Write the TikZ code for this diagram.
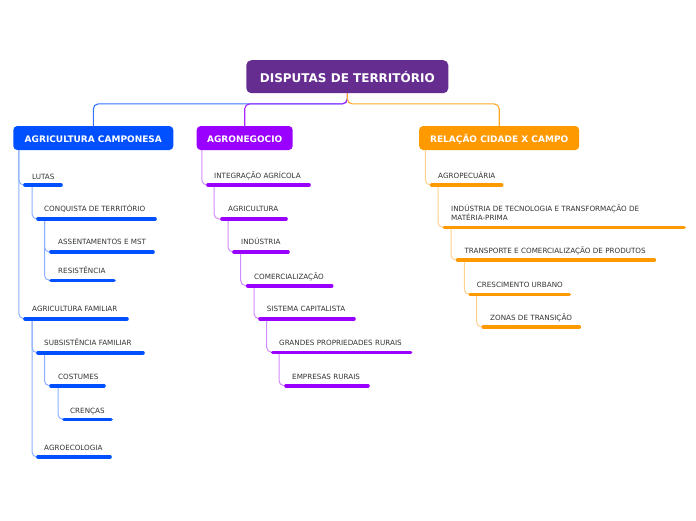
\documentclass[tikz,border=0pt]{standalone}
\usepackage{fontspec}
\setmainfont{DejaVu Sans}
\definecolor{titleC}{HTML}{662D91}
\definecolor{blueC}{HTML}{0050FF}
\definecolor{purpleC}{HTML}{9900FF}
\definecolor{orangeC}{HTML}{FF9900}
\definecolor{txtC}{HTML}{333333}
\tikzset{
  topbox/.style={rectangle, rounded corners=4pt, inner sep=0pt, text=white, font=\fontsize{9}{10}\selectfont\bfseries, minimum height=24pt, text height=8.6pt, text depth=0pt},
  titlebox/.style={rectangle, rounded corners=5pt, inner sep=0pt, fill=titleC, text=white, font=\fontsize{12}{14}\selectfont\bfseries, minimum width=202pt, minimum height=33pt},
  item/.style={inner sep=0pt, anchor=base west, text=txtC, font=\fontsize{7.2}{9.3}\selectfont},
  bar/.style={line width=3.6pt, line cap=round},
  conn/.style={line width=1pt, rounded corners=5pt},
  mainconn/.style={line width=1.1pt, rounded corners=5pt},
}
\begin{document}
\begin{tikzpicture}[x=1pt,y=-1pt]
\useasboundingbox (0,0) rectangle (696,520);

% title and top boxes
\node[titlebox] (title) at (347.3,76.7) {DISPUTAS DE TERRITÓRIO};
\node[topbox, fill=blueC, minimum width=160pt] (ac) at (93.3,138) {AGRICULTURA CAMPONESA};
\node[topbox, fill=purpleC, minimum width=96pt] (ag) at (244.7,138) {AGRONEGOCIO};
\node[topbox, fill=orangeC, minimum width=160pt] (rc) at (499.2,138) {RELAÇÃO CIDADE X CAMPO};

\draw[mainconn, blueC!80!white] (title.south) -- ++(0,10.5) -| (ac.north);
\draw[mainconn, purpleC!85!white] (title.south) -- ++(0,10.5) -| (ag.north);
\draw[mainconn, orangeC!85!white] (title.south) -- ++(0,10.5) -| (rc.north);

% ---------- AGRICULTURA CAMPONESA ----------
\node[item] (lutas) at (32,179.3) {LUTAS};
\coordinate (lutasL) at (25,185); \coordinate (lutasR) at (61,185);
\node[item] (conq) at (44,211.6) {CONQUISTA DE TERRITÓRIO};
\coordinate (conqL) at (38,219); \coordinate (conqR) at (155,219);
\node[item] (assent) at (58,244.6) {ASSENTAMENTOS E MST};
\coordinate (assentL) at (51,252); \coordinate (assentR) at (153,252);
\node[item] (resist) at (58,273.6) {RESISTÊNCIA};
\coordinate (resistL) at (51,280.3); \coordinate (resistR) at (114,280.3);
\node[item] (agfam) at (32,311.6) {AGRICULTURA FAMILIAR};
\coordinate (agfamL) at (25,318.7); \coordinate (agfamR) at (127,318.7);
\node[item] (subs) at (44,345.6) {SUBSISTÊNCIA FAMILIAR};
\coordinate (subsL) at (38,352.7); \coordinate (subsR) at (143,352.7);
\node[item] (cost) at (58,379.3) {COSTUMES};
\coordinate (costL) at (51,385.7); \coordinate (costR) at (104,385.7);
\node[item] (cren) at (70,413.3) {CRENÇAS};
\coordinate (crenL) at (64,419.3); \coordinate (crenR) at (111,419.3);
\node[item] (agroe) at (44,450.6) {AGROECOLOGIA};
\coordinate (agroeL) at (38,457); \coordinate (agroeR) at (110,457);

\begin{scope}[conn, blueC!45!white]
\draw ([xshift=5.7pt]ac.south west) |- (lutasL);
\draw ([xshift=5.7pt]ac.south west) |- (agfamL);
\draw (lutasL) ++(7,0) |- (conqL);
\draw (conqL) ++(6.5,0) |- (assentL);
\draw (conqL) ++(6.5,0) |- (resistL);
\draw (agfamL) ++(7,0) |- (subsL);
\draw (agfamL) ++(7,0) |- (agroeL);
\draw (subsL) ++(6.5,0) |- (costL);
\draw (costL) ++(7,0) |- (crenL);
\end{scope}
\begin{scope}[bar, blueC]
\draw (lutasL) -- (lutasR);
\draw (conqL) -- (conqR);
\draw (assentL) -- (assentR);
\draw (resistL) -- (resistR);
\draw (agfamL) -- (agfamR);
\draw (subsL) -- (subsR);
\draw (costL) -- (costR);
\draw (crenL) -- (crenR);
\draw (agroeL) -- (agroeR);
\end{scope}

% ---------- AGRONEGOCIO ----------
\node[item] (integ) at (214,178.6) {INTEGRAÇÃO AGRÍCOLA};
\coordinate (integL) at (208,185); \coordinate (integR) at (309,185);
\node[item] (agric) at (228,211.6) {AGRICULTURA};
\coordinate (agricL) at (222,219); \coordinate (agricR) at (286,219);
\node[item] (indu) at (241,244.6) {INDÚSTRIA};
\coordinate (induL) at (234,252); \coordinate (induR) at (288,252);
\node[item] (comer) at (254,279.3) {COMERCIALIZAÇÃO};
\coordinate (comerL) at (247.7,285.7); \coordinate (comerR) at (331.7,285.7);
\node[item] (sist) at (266.7,311.6) {SISTEMA CAPITALISTA};
\coordinate (sistL) at (260,318.7); \coordinate (sistR) at (354,318.7);
\node[item] (grand) at (279,345.6) {GRANDES PROPRIEDADES RURAIS};
\coordinate (grandL) at (272.7,352.3); \coordinate (grandR) at (410.7,352.3);
\node[item] (empr) at (292,379.3) {EMPRESAS RURAIS};
\coordinate (emprL) at (286,385.7); \coordinate (emprR) at (368,385.7);

\begin{scope}[conn, purpleC!45!white]
\draw ([xshift=5.3pt]ag.south west) |- (integL);
\draw (integL) ++(6,0) |- (agricL);
\draw (agricL) ++(6,0) |- (induL);
\draw (induL) ++(6.7,0) |- (comerL);
\draw (comerL) ++(6.3,0) |- (sistL);
\draw (sistL) ++(6.7,0) |- (grandL);
\draw (grandL) ++(6.3,0) |- (emprL);
\end{scope}
\begin{scope}[bar, purpleC]
\draw (integL) -- (integR);
\draw (agricL) -- (agricR);
\draw (induL) -- (induR);
\draw (comerL) -- (comerR);
\draw (sistL) -- (sistR);
\draw (grandL) -- (grandR);
\draw (emprL) -- (emprR);
\end{scope}

% ---------- RELACAO CIDADE X CAMPO ----------
\node[item] (agrop) at (438,178.6) {AGROPECUÁRIA};
\coordinate (agropL) at (431.7,185); \coordinate (agropR) at (501.7,185);
\node[item, align=left] (indt) at (451,220.9) {INDÚSTRIA DE TECNOLOGIA E TRANSFORMAÇÃO DE\\MATÉRIA-PRIMA};
\coordinate (indtL) at (444.3,227.3); \coordinate (indtR) at (684,227.3);
\node[item] (transp) at (464.3,253.6) {TRANSPORTE E COMERCIALIZAÇÃO DE PRODUTOS};
\coordinate (transpL) at (457.7,260); \coordinate (transpR) at (654.3,260);
\node[item] (cresc) at (476.7,287.9) {CRESCIMENTO URBANO};
\coordinate (crescL) at (470,294.3); \coordinate (crescR) at (569.3,294.3);
\node[item] (zonas) at (490,320.9) {ZONAS DE TRANSIÇÃO};
\coordinate (zonasL) at (483.3,327); \coordinate (zonasR) at (579.3,327);

\begin{scope}[conn, orangeC!45!white]
\draw ([xshift=6.4pt]rc.south west) |- (agropL);
\draw (agropL) ++(6.3,0) |- (indtL);
\draw (indtL) ++(6.7,0) |- (transpL);
\draw (transpL) ++(6.6,0) |- (crescL);
\draw (crescL) ++(6.7,0) |- (zonasL);
\end{scope}
\begin{scope}[bar, orangeC]
\draw (agropL) -- (agropR);
\draw (indtL) -- (indtR);
\draw (transpL) -- (transpR);
\draw (crescL) -- (crescR);
\draw (zonasL) -- (zonasR);
\end{scope}
\end{tikzpicture}
\end{document}
